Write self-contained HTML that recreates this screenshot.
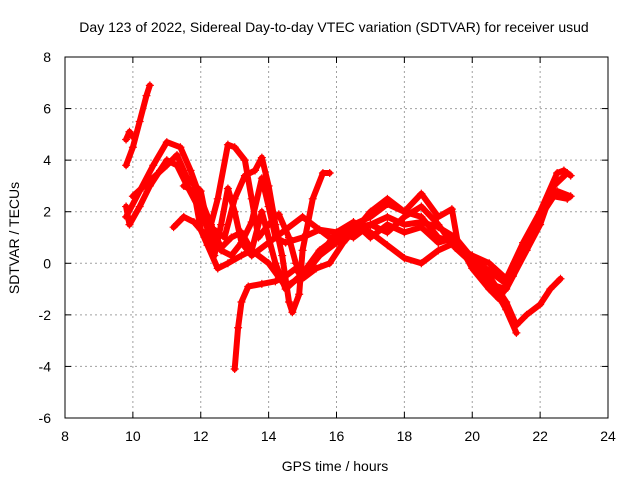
<!DOCTYPE html>
<html><head><meta charset="utf-8"><style>
body{margin:0;background:#fff}
svg text{font-family:"Liberation Sans",sans-serif;font-size:14px;fill:#000}
</style></head><body>
<svg id="chart" width="640" height="480">
<text x="334" y="32" text-anchor="middle">Day 123 of 2022, Sidereal Day-to-day VTEC variation (SDTVAR) for receiver usud</text>
<text x="335" y="471" text-anchor="middle">GPS time / hours</text>
<text transform="translate(19,238) rotate(-90)" text-anchor="middle">SDTVAR / TECUs</text>
<g id="grid"></g><g id="ticks"></g><g id="series"></g>
<rect x="65" y="57" width="543" height="361" fill="none" stroke="#000" stroke-width="1"/>
</svg>
<script>
const xTicks=[8,10,12,14,16,18,20,22,24];
const yTicks=[-6,-4,-2,0,2,4,6,8];
const sA=[[9.8,3.8],[10.0,4.5],[10.2,5.5],[10.4,6.5],[10.5,6.9]];
const sA2=[[9.8,4.8],[9.9,5.1],[10.0,4.9]];
const sB=[[9.8,2.2],[9.9,1.5],[10.2,2.2],[10.5,3.0],[10.8,3.6],[11.0,4.0],[11.3,3.8],[11.6,3.0],[12.0,2.0],[12.3,1.0],[12.6,0.5],[12.9,0.3],[13.2,0.8],[13.5,0.3],[14.0,0.8],[14.5,1.3],[15.0,1.8],[15.5,1.3],[16.0,0.8],[16.5,1.5],[17.0,1.8],[17.5,2.3],[18.0,2.0],[18.5,1.8],[19.0,1.0],[19.5,0.8],[20.0,0.2],[20.5,-0.5],[21.0,-1.5],[21.3,-2.4],[21.6,-2.0],[22.0,-1.6],[22.3,-1.0],[22.6,-0.6]];
const sC=[[9.8,1.8],[10.2,2.8],[10.6,3.8],[11.0,4.7],[11.4,4.5],[11.7,3.6],[12.0,2.5],[12.3,1.5],[12.6,0.6],[12.9,1.0],[13.2,1.2],[13.5,0.5],[14.0,0.0],[14.5,-0.9],[15.0,-0.5],[15.5,0.3],[16.0,0.8],[16.5,1.4],[17.0,1.2],[17.5,0.7],[18.0,0.2],[18.5,0.0],[19.0,0.5],[19.5,0.8],[20.0,0.0],[20.5,-0.8],[21.0,-1.0],[21.2,-0.5],[21.6,0.5],[22.0,1.5],[22.4,3.0],[22.8,3.5]];
const sD=[[10.0,2.6],[10.5,3.2],[11.0,3.8],[11.3,4.2],[11.6,3.3],[12.0,2.8],[12.2,1.5],[12.4,0.3],[12.6,1.5],[12.8,2.9],[13.0,2.0],[13.2,0.8],[13.5,1.6],[13.8,3.3],[14.0,2.2],[14.2,1.0],[14.5,0.8],[15.0,1.0],[15.5,1.3],[16.0,1.2],[16.5,1.0],[17.0,1.5],[17.5,1.8],[18.0,1.5],[18.5,1.6],[19.0,1.4],[19.5,1.0],[20.0,0.2],[20.5,-0.3],[21.0,-0.8],[21.3,0.0],[21.7,1.0],[22.1,2.0],[22.5,2.8],[22.9,2.6]];
const sE=[[11.2,1.4],[11.5,1.8],[11.8,1.6],[12.2,1.0],[12.5,2.5],[12.8,4.6],[13.0,4.5],[13.3,4.0],[13.5,2.5],[13.7,1.0],[14.0,1.5],[14.3,1.9],[14.6,1.0],[14.8,0.0],[15.0,-0.5],[15.5,0.3],[16.0,1.2],[16.5,1.6],[17.0,1.0],[17.5,1.5],[18.0,1.2],[18.5,1.4],[19.0,0.8],[19.5,1.0],[20.0,-0.2],[20.5,-1.0],[20.8,-1.4],[21.2,-0.4],[21.6,0.5],[22.0,1.8],[22.4,2.6],[22.8,2.5]];
const sF=[[13.0,-4.1],[13.1,-2.5],[13.2,-1.5],[13.4,-0.9],[13.8,-0.8],[14.2,-0.7],[14.5,-0.5],[14.8,-0.2],[15.0,-0.6],[15.4,-0.2],[15.8,0.0],[16.2,0.8],[16.6,1.4],[17.0,1.5],[17.5,1.2],[18.0,1.8],[18.5,2.2],[19.0,1.5],[19.5,0.6],[20.0,0.0],[20.5,-0.6],[21.0,-1.8],[21.3,-2.7]];
const sG=[[12.4,1.3],[12.7,1.0],[13.0,2.5],[13.3,3.4],[13.6,3.6],[13.8,4.1],[14.0,3.0],[14.2,1.5],[14.4,0.3],[14.6,-1.5],[14.7,-1.9],[14.9,-1.2],[15.0,0.5],[15.3,2.5],[15.6,3.5],[15.8,3.5]];
const sH=[[11.5,3.0],[11.8,2.8],[12.0,1.3],[12.2,0.7],[12.5,-0.2],[12.8,0.0],[13.2,0.3],[13.5,0.5],[13.8,2.0],[14.2,0.0],[14.5,-1.0],[15.0,-0.4],[15.5,0.5],[16.0,1.0],[16.5,1.2],[17.0,2.0],[17.5,2.5],[18.0,2.0],[18.5,2.7],[19.0,1.8],[19.4,2.1],[19.6,0.6],[20.0,0.3],[20.5,0.0],[21.0,-0.6],[21.5,0.8],[22.0,2.0],[22.5,3.5],[22.7,3.6],[22.9,3.4]];
const allSeries=[sA,sA2,sB,sC,sD,sE,sF,sG,sH];
const NS="http://www.w3.org/2000/svg";
const X0=65,X1=608,Y0=418,Y1=57;
function xs(v){return X0+(v-8)/16*(X1-X0);}
function ys(v){return Y0-(v+6)/14*(Y0-Y1);}
function mk(t,a,p){const e=document.createElementNS(NS,t);for(const k in a)e.setAttribute(k,a[k]);p.appendChild(e);return e;}
const grid=document.getElementById('grid'),ticks=document.getElementById('ticks'),ser=document.getElementById('series');
xTicks.forEach(v=>{const x=xs(v);
 if(v>8&&v<24){const g=mk('line',{x1:x,x2:x,y1:Y0,y2:Y1,stroke:'#a0a0a0','stroke-dasharray':'2,3'},grid);
 
 }
 mk('line',{x1:x,x2:x,y1:Y0,y2:Y0-6,stroke:'#000'},ticks);mk('line',{x1:x,x2:x,y1:Y1,y2:Y1+6,stroke:'#000'},ticks);
 const t=mk('text',{x:x,y:Y0+23,'text-anchor':'middle'},ticks);t.textContent=v;
 
 });
yTicks.forEach(v=>{const y=ys(v);
 if(v>-6&&v<8){const g=mk('line',{x1:X0,x2:X1,y1:y,y2:y,stroke:'#a0a0a0','stroke-dasharray':'2,3'},grid);
 
 }
 mk('line',{x1:X0,x2:X0+6,y1:y,y2:y,stroke:'#000'},ticks);mk('line',{x1:X1,x2:X1-6,y1:y,y2:y,stroke:'#000'},ticks);
 const t=mk('text',{x:X0-14,y:y+5,'text-anchor':'end'},ticks);t.textContent=v;
 
 });
allSeries.forEach((s,i)=>{
 const pl=mk('polyline',{points:s.map(p=>xs(p[0])+','+ys(p[1])).join(' '),fill:'none',stroke:'#ff0000','stroke-width':6,'stroke-linejoin':'round','stroke-linecap':'round'},ser);
 
 
 s.forEach(p=>{const x=xs(p[0]),y=ys(p[1]);
  const m=mk('path',{d:`M${x-4},${y}H${x+4}M${x},${y-4}V${y+4}`,stroke:'#ff0000','stroke-width':1.2},ser);
  
  });
});
</script>
</body></html>
